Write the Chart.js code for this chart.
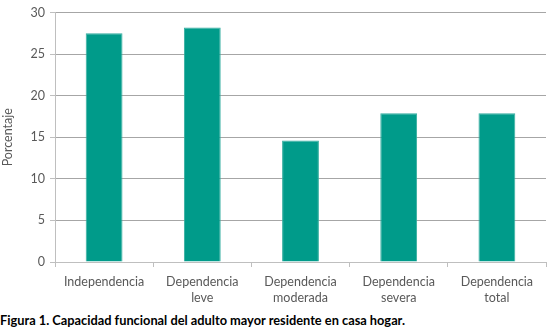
<!DOCTYPE html>
<html>
<head>
<meta charset="utf-8">
<script src="https://cdn.jsdelivr.net/npm/chart.js@4.4.0/dist/chart.umd.min.js"></script>
<style>
  html, body { margin: 0; padding: 0; background: #fff; }
  #wrap { position: relative; width: 547px; height: 333px; }
  #c { position: absolute; left: 0; top: 0; }
  #cap { position: absolute; left: 0px; top: 312px; font-family: Lato, sans-serif; font-weight: bold; font-size: 12.8px; color: #000; white-space: nowrap; }
</style>
</head>
<body>
<div id="wrap">
  <canvas id="c" width="547" height="310"></canvas>
  <div id="cap">Figura 1. Capacidad funcional del adulto mayor residente en casa hogar.</div>
</div>
<script>
const categories = [["Independencia"], ["Dependencia", "leve"], ["Dependencia", "moderada"], ["Dependencia", "severa"], ["Dependencia", "total"]];
const values = [27.5, 28.2, 14.6, 17.9, 17.9];
const yTicks = [0, 5, 10, 15, 20, 25, 30];

new Chart(document.getElementById('c'), {
  type: 'bar',
  data: {
    labels: categories,
    datasets: [{
      data: values,
      backgroundColor: '#009b8a',
      borderColor: '#33ad9f',
      borderWidth: 1,
      categoryPercentage: 1,
      barPercentage: 0.375
    }]
  },
  options: {
    responsive: false,
    animation: false,
    layout: { padding: { top: 7, right: 1, left: 0, bottom: 0 } },
    plugins: { legend: { display: false }, tooltip: { enabled: false } },
    scales: {
      x: {
        grid: { display: true, drawOnChartArea: false, offset: true, color: '#bfbfbf', tickLength: 5 },
        border: { display: true, color: '#bfbfbf', width: 1 },
        ticks: { color: '#595959', font: { family: 'Lato', size: 12.5, lineHeight: 1.3 }, padding: 7, maxRotation: 0, autoSkip: false },
        afterFit: (s) => { s.height = 48; }
      },
      y: {
        min: 0, max: 30,
        afterBuildTicks: (s) => { s.ticks = yTicks.map(v => ({ value: v })); },
        grid: { color: '#a6a6a6', tickColor: '#bfbfbf', tickLength: 5, borderDash: [1, 2], tickBorderDash: [] },
        border: { display: true, color: '#bfbfbf', width: 1 },
        ticks: { color: '#595959', font: { family: 'Lato', size: 12.5 }, padding: 5 },
        title: { display: true, text: 'Porcentaje', color: '#595959', font: { family: 'Lato', size: 12.5 }, padding: { top: 0, bottom: 4 } },
        afterFit: (s) => { s.width = 55; }
      }
    }
  }
});
</script>
</body>
</html>
